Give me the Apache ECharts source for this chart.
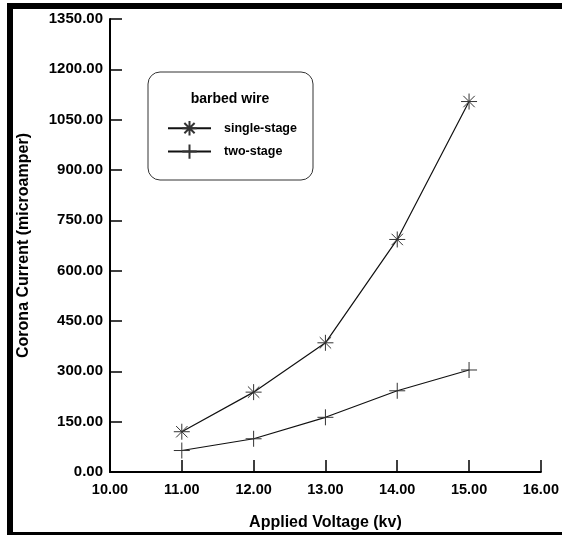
<!DOCTYPE html>
<html>
<head>
<meta charset="utf-8">
<script src="https://cdn.jsdelivr.net/npm/echarts@6/dist/echarts.min.js"></script>
<style>
  html, body { margin: 0; padding: 0; background: #fff; }
  #chart { width: 562px; height: 536px; }
</style>
</head>
<body>
<div id="chart"></div>
<script>
// applied voltage (kv)
var voltage = [11, 12, 13, 14, 15]
// corona current (microamper)
var singleStage = [120, 238, 385, 693, 1104]
var twoStage = [64, 99, 163, 242, 304]

var starPath = 'path://M0,8L16,8M8,0L8,16M2.3,2.3L13.7,13.7M13.7,2.3L2.3,13.7'
var plusPath = 'path://M0,8L16,8M8,0L8,16'
var font = 'Liberation Sans, Arial, sans-serif'

function pairs(xs, ys) {
  return xs.map(function(x, i) { return [x, ys[i]] })
}

var chart = echarts.init(document.getElementById('chart'))
chart.setOption({
  animation: false,
  backgroundColor: '#fff',
  grid: { left: 110, right: 17, top: 19, bottom: 64 },
  xAxis: {
    type: 'value',
    min: 10,
    max: 16,
    interval: 1,
    name: 'Applied Voltage (kv)',
    nameLocation: 'middle',
    nameGap: 43,
    nameTextStyle: { fontFamily: font, fontWeight: 'bold', fontSize: 16, color: '#000' },
    axisLine: { lineStyle: { color: '#000', width: 2 } },
    axisTick: { inside: true, length: 12, lineStyle: { color: '#000', width: 1.5 } },
    axisLabel: {
      margin: 10,
      fontFamily: font, fontWeight: 'bold', fontSize: 14.5, color: '#000',
      formatter: function(v) { return v.toFixed(2) }
    },
    splitLine: { show: false }
  },
  yAxis: {
    type: 'value',
    min: 0,
    max: 1350,
    interval: 150,
    name: 'Corona Current (microamper)',
    nameLocation: 'middle',
    nameGap: 78,
    nameTextStyle: { fontFamily: font, fontWeight: 'bold', fontSize: 16, color: '#000' },
    axisLine: { show: true, lineStyle: { color: '#000', width: 2 } },
    axisTick: { show: true, inside: true, length: 12, lineStyle: { color: '#000', width: 1.5 } },
    axisLabel: {
      margin: 7,
      fontFamily: font, fontWeight: 'bold', fontSize: 15, color: '#000',
      formatter: function(v) { return v.toFixed(2) }
    },
    splitLine: { show: false }
  },
  legend: {
    orient: 'vertical',
    left: 162,
    top: 115,
    itemWidth: 43,
    itemHeight: 18,
    itemGap: 7,
    textStyle: { fontFamily: font, fontWeight: 'bold', fontSize: 12.5, color: '#000', padding: [0, 0, 0, 8] },
    data: ['single-stage', 'two-stage']
  },
  graphic: [
    { type: 'rect', shape: { x: 148, y: 72, width: 165, height: 108, r: 12 },
      style: { fill: 'none', stroke: '#333', lineWidth: 1 } },
    { type: 'text', x: 230, y: 99,
      style: { text: 'barbed wire', fontFamily: font, fontWeight: 'bold', fontSize: 14,
        fill: '#000', textAlign: 'center', textVerticalAlign: 'middle' } },
    // figure frame
    { type: 'rect', shape: { x: 7, y: 3, width: 6, height: 532 }, style: { fill: '#000' } },
    { type: 'rect', shape: { x: 7, y: 3, width: 555, height: 6 }, style: { fill: '#000' } },
    { type: 'rect', shape: { x: 7, y: 532, width: 555, height: 3 }, style: { fill: '#000' } }
  ],
  series: [
    {
      name: 'single-stage',
      type: 'line',
      data: pairs(voltage, singleStage),
      symbol: starPath,
      symbolSize: 16,
      lineStyle: { color: '#111', width: 1.2 },
      itemStyle: { color: '#333', borderColor: '#333', borderWidth: 1 }
    },
    {
      name: 'two-stage',
      type: 'line',
      data: pairs(voltage, twoStage),
      symbol: plusPath,
      symbolSize: 16,
      lineStyle: { color: '#111', width: 1.2 },
      itemStyle: { color: '#333', borderColor: '#333', borderWidth: 1 }
    }
  ]
})
</script>
</body>
</html>
